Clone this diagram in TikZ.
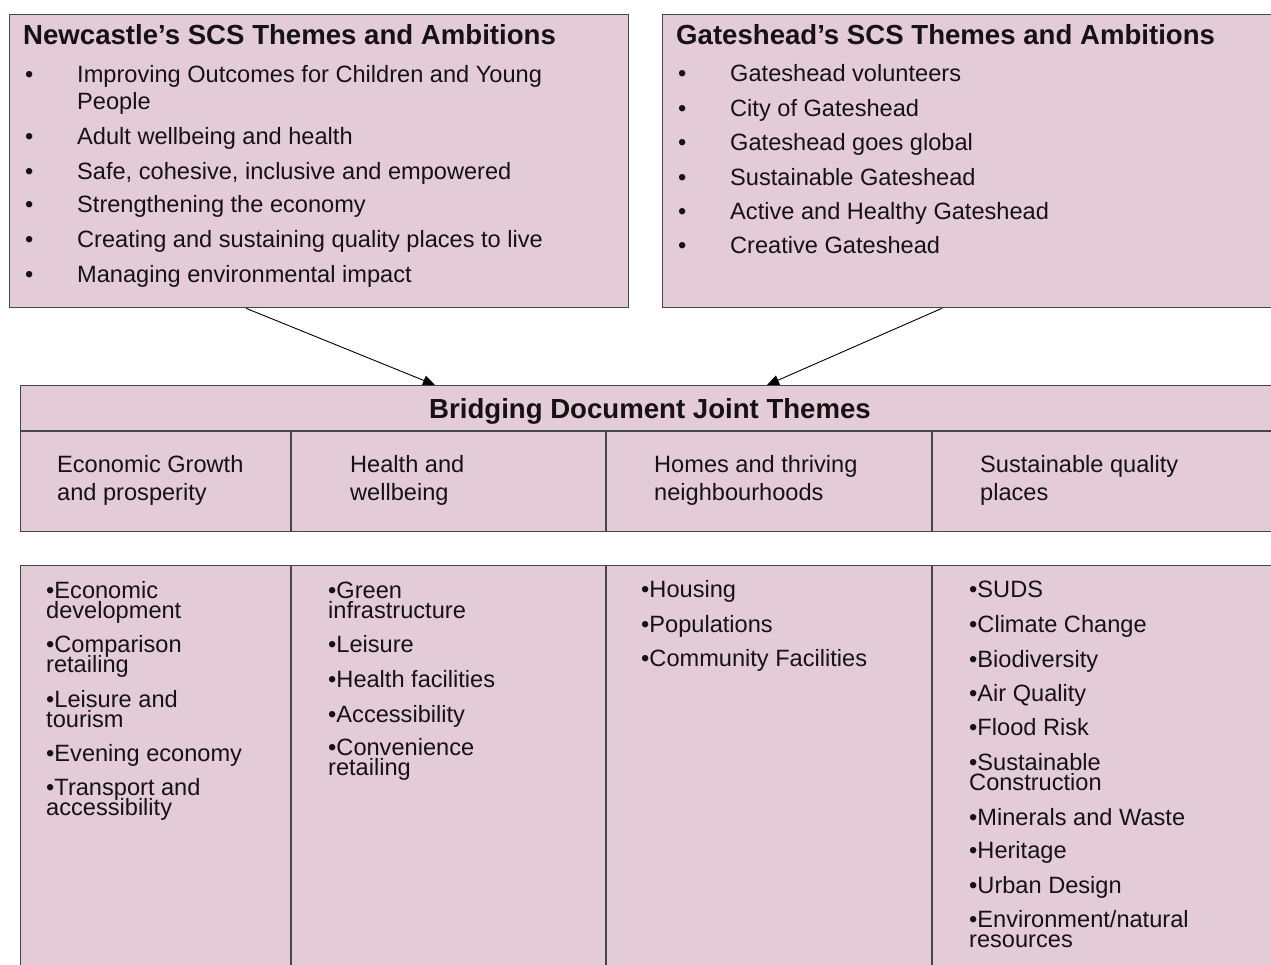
\documentclass[tikz,border=0pt]{standalone}
\usepackage{fontspec}
\setmainfont{Liberation Sans}
\usetikzlibrary{arrows.meta}
\definecolor{panelfill}{RGB}{227,203,216}
\definecolor{panelline}{RGB}{70,70,70}
\definecolor{ink}{RGB}{22,18,20}
% an item that wraps onto a second, tightly set line; the box keeps the first baseline
\newcommand{\twolines}[2]{\vtop{\baselineskip=20pt\lineskiplimit=-100pt\lineskip=0pt\hbox{#1}\hbox{#2}}}
\begin{document}
\begin{tikzpicture}[x=1pt,y=-1pt,
  panel/.style={draw=panelline, fill=panelfill, line width=1.3pt, inner sep=0pt, anchor=north west},
  rule/.style={draw=panelline, line width=1.3pt},
  heading/.style={anchor=base west, inner sep=0pt, text=ink, font=\fontsize{27.6}{32}\selectfont\bfseries},
  txt/.style={anchor=base west, inner sep=0pt, text=ink, font=\fontsize{23.6}{28}\selectfont},
  link/.style={draw=black, line width=0.9pt, -{Triangle[length=12pt,width=10pt]}}]
\useasboundingbox (0,0) rectangle (1271,965);

% --- the four panels -------------------------------------------------
\node[panel, minimum width=619pt, minimum height=293pt] (nc) at (9,14) {};
\node[panel, minimum width=630pt, minimum height=293pt] (gh) at (662,14) {};
\node[panel, minimum width=1272pt, minimum height=146pt] (bridge) at (20,385) {};
\node[panel, minimum width=1272pt, minimum height=430pt] (topics) at (20,565) {};

% table rules inside the bridging panel and the topic panel
\draw[rule] (bridge.west |- 0,431) -- (bridge.east |- 0,431);
\foreach \x in {291,606,932} {
  \draw[rule] (\x,431) -- (\x,531);
  \draw[rule] (\x,565) -- (\x,990);
}

% --- Newcastle panel -------------------------------------------------
\node[heading] (nc-title) at (23,45) {Newcastle’s SCS Themes and Ambitions};
\foreach \y [count=\i] in {83,145,180,213,248,283}
  \node[txt] (nc-b\i) at (25,\y) {•};
\foreach \y/\t [count=\i] in {
  83/{Improving Outcomes for Children and Young},
  110/{People},
  145/{Adult wellbeing and health},
  180/{Safe, cohesive, inclusive and empowered},
  213/{Strengthening the economy},
  248/{Creating and sustaining quality places to live},
  283/{Managing environmental impact}}
  \node[txt] (nc-t\i) at (77,\y) {\t};

% --- Gateshead panel -------------------------------------------------
\node[heading] (gh-title) at (676,45) {Gateshead’s SCS Themes and Ambitions};
\foreach \y/\t [count=\i] in {
  82/{Gateshead volunteers},
  117/{City of Gateshead},
  151/{Gateshead goes global},
  186/{Sustainable Gateshead},
  220/{Active and Healthy Gateshead},
  254/{Creative Gateshead}} {
  \node[txt] (gh-b\i) at (678,\y) {•};
  \node[txt] (gh-t\i) at (730,\y) {\t};
}

% --- bridging document ------------------------------------------------
\node[heading, anchor=base] (br-title) at (650,418) {Bridging Document Joint Themes};
\foreach \x/\a/\b [count=\i] in {
  57/{Economic Growth}/{and prosperity},
  350/{Health and}/{wellbeing},
  654/{Homes and thriving}/{neighbourhoods},
  980/{Sustainable quality}/{places}} {
  \node[txt] (hd\i a) at (\x,472) {\a};
  \node[txt] (hd\i b) at (\x,500) {\b};
}

% --- topic lists --------------------------------------------------------
\foreach \y/\t [count=\i] in {
  598/{\twolines{•Economic}{development}},
  652/{\twolines{•Comparison}{retailing}},
  707/{\twolines{•Leisure and}{tourism}},
  761/{•Evening economy},
  795/{\twolines{•Transport and}{accessibility}}}
  \node[txt] (ca\i) at (46,\y) {\t};

\foreach \y/\t [count=\i] in {
  598/{\twolines{•Green}{infrastructure}},
  652/{•Leisure},
  687/{•Health facilities},
  722/{•Accessibility},
  755/{\twolines{•Convenience}{retailing}}}
  \node[txt] (cb\i) at (328,\y) {\t};

\foreach \y/\t [count=\i] in {
  597/{•Housing},
  632/{•Populations},
  666/{•Community Facilities}}
  \node[txt] (cc\i) at (641,\y) {\t};

\foreach \y/\t [count=\i] in {
  597/{•SUDS},
  632/{•Climate Change},
  667/{•Biodiversity},
  701/{•Air Quality},
  735/{•Flood Risk},
  770/{\twolines{•Sustainable}{Construction}},
  825/{•Minerals and Waste},
  858/{•Heritage},
  893/{•Urban Design},
  927/{\twolines{•Environment/natural}{resources}}}
  \node[txt] (cd\i) at (969,\y) {\t};

% --- connectors ---------------------------------------------------------
\draw[link] ([xshift=237pt]nc.south west) -- ([xshift=415pt]bridge.north west);
\draw[link] ([xshift=280pt]gh.south west) -- ([xshift=747pt]bridge.north west);
\end{tikzpicture}
\end{document}
